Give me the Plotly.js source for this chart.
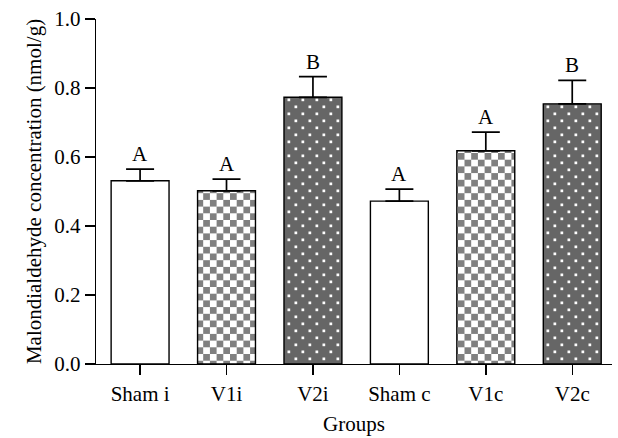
<!DOCTYPE html>
<html><head><meta charset="utf-8">
<script src="https://cdn.plot.ly/plotly-3.0.1.min.js"></script>
<style>html,body{margin:0;padding:0;background:#fff}#chart{width:618px;height:438px}</style>
</head><body><div id="chart"></div>
<script>
const categories = ['Sham i','V1i','V2i','Sham c','V1c','V2c'];
const means = [0.531, 0.502, 0.773, 0.472, 0.618, 0.754];
const errors = [0.034, 0.034, 0.060, 0.035, 0.054, 0.068];
const letters = ['A','A','B','A','A','B'];
const yTicks = [0, 0.2, 0.4, 0.6, 0.8, 1.0];
const yTickText = ['0.0','0.2','0.4','0.6','0.8','1.0'];

const FONT = 'Liberation Serif, Times New Roman, serif';
const FS = 21;
const CHECK_FG = '#808081';
const DOT_FG = '#fffffe';
const fills = [
  {shape:'', fg:'#fff', bg:'#fff'},
  {shape:'.', fg:CHECK_FG, bg:'#ffffff', size:9.4, sol:0.5},
  {shape:'.', fg:DOT_FG, bg:'#666666', size:9.5, sol:0.1},
  {shape:'', fg:'#fff', bg:'#fff'},
  {shape:'.', fg:CHECK_FG, bg:'#ffffff', size:9.4, sol:0.5},
  {shape:'.', fg:DOT_FG, bg:'#666666', size:9.5, sol:0.1}
];

const traces = categories.map((c, i) => ({
  type: 'bar',
  x: [c],
  y: [means[i]],
  width: 0.67,
  marker: {
    color: fills[i].bg,
    line: {color: '#000', width: 1.4},
    pattern: fills[i].shape ? {shape: fills[i].shape, fgcolor: fills[i].fg, bgcolor: fills[i].bg,
      size: fills[i].size, solidity: fills[i].sol, fillmode: 'replace'} : undefined
  },
  error_y: {type: 'data', array: [errors[i]], arrayminus: [0], symmetric: false,
    color: '#000', thickness: 1.7, width: 14},
  showlegend: false,
  hoverinfo: 'skip'
}));

const annotations = categories.map((c, i) => ({
  x: c, y: means[i] + errors[i], xref: 'x', yref: 'y',
  text: letters[i], showarrow: false, yanchor: 'bottom', yshift: 1,
  font: {family: FONT, size: FS, color: '#000'}
}));

const layout = {
  width: 618, height: 438,
  margin: {l: 96, r: 6, t: 19, b: 74},
  paper_bgcolor: '#fff', plot_bgcolor: '#fff',
  font: {family: FONT, size: FS, color: '#000'},
  bargap: 0,
  xaxis: {
    type: 'category', categoryarray: categories, range: [-0.51, 5.46],
    showline: true, linecolor: '#000', linewidth: 1.4,
    ticks: 'outside', ticklen: 10, tickwidth: 1.4, tickcolor: '#000',
    showgrid: false, zeroline: false,
    tickfont: {family: FONT, size: FS},
    title: {text: 'Groups', font: {family: FONT, size: FS}, standoff: 11}
  },
  yaxis: {
    range: [0, 1.0], tickvals: yTicks, ticktext: yTickText,
    showline: true, linecolor: '#000', linewidth: 1.4,
    ticks: 'outside', ticklen: 10, tickwidth: 1.4, tickcolor: '#000',
    showgrid: false, zeroline: false,
    tickfont: {family: FONT, size: FS},
    title: {text: 'Malondialdehyde concentration (nmol/g)', font: {family: FONT, size: FS}, standoff: 7}
  },
  annotations: annotations
};

function matches(p, hex, rgb) {
  const html = p.outerHTML.toLowerCase().replace(/\s+/g, '');
  return html.indexOf(hex) !== -1 || html.indexOf(rgb) !== -1;
}
function rebuild(p, w, h, bgFill, rects, fill) {
  const NS = 'http://www.w3.org/2000/svg';
  while (p.firstChild) p.removeChild(p.firstChild);
  p.setAttribute('width', w);
  p.setAttribute('height', h);
  const bg = document.createElementNS(NS, 'rect');
  bg.setAttribute('x', 0); bg.setAttribute('y', 0);
  bg.setAttribute('width', w); bg.setAttribute('height', h);
  bg.setAttribute('fill', bgFill);
  p.appendChild(bg);
  rects.forEach(([x, y, s]) => {
    const r = document.createElementNS(NS, 'rect');
    r.setAttribute('x', x); r.setAttribute('y', y);
    r.setAttribute('width', s); r.setAttribute('height', s);
    r.setAttribute('fill', fill);
    p.appendChild(r);
  });
}
function restyleFills() {
  const cell = 6.7;
  document.querySelectorAll('pattern').forEach(p => {
    if (matches(p, '808081', 'rgb(128,128,129)')) {
      rebuild(p, 2 * cell, 2 * cell, '#ffffff', [[0, 0, cell], [cell, cell, cell]], '#808080');
    } else if (matches(p, 'fffffe', 'rgb(255,255,254)')) {
      rebuild(p, 14, 14, '#666666', [[2.5, 2.5, 2.7], [9.5, 9.5, 2.7]], '#ffffff');
    }
  });
}

Plotly.newPlot('chart', traces, layout, {staticPlot: true, displayModeBar: false}).then(restyleFills);
</script>
</body></html>
